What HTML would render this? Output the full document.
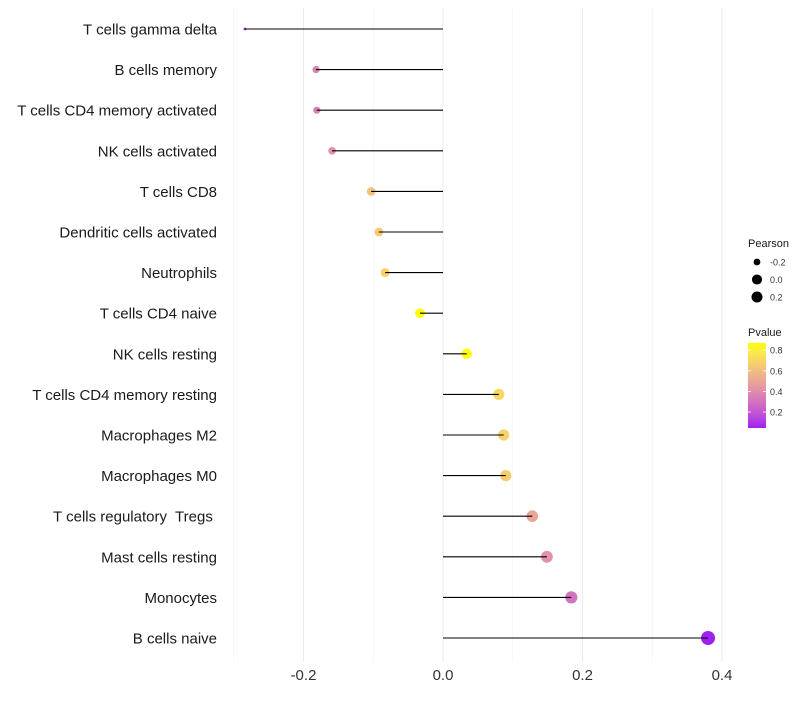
<!DOCTYPE html>
<html><head><meta charset="utf-8"><style>
body{margin:0;background:#fff;}
svg{font-family:"Liberation Sans",sans-serif;}
text{white-space:pre;}
</style></head><body>
<svg id="chart" width="800" height="700">
<defs><linearGradient id="pgrad" x1="0" y1="1" x2="0" y2="0"></linearGradient></defs>
<g id="grid"></g><g id="marks"></g><g id="labels"></g><g id="legend"></g>
</svg>
<script>
const categories=["T cells gamma delta","B cells memory","T cells CD4 memory activated","NK cells activated","T cells CD8","Dendritic cells activated","Neutrophils","T cells CD4 naive","NK cells resting","T cells CD4 memory resting","Macrophages M2","Macrophages M0","T cells regulatory  Tregs ","Mast cells resting","Monocytes","B cells naive"];
const pearson=[-0.284,-0.182,-0.181,-0.159,-0.103,-0.092,-0.083,-0.033,0.034,0.080,0.087,0.090,0.128,0.149,0.184,0.380];
const pvalue=[0.05,0.36,0.36,0.42,0.62,0.65,0.68,0.87,0.86,0.70,0.68,0.66,0.50,0.42,0.30,0.045];
const xTicks=[-0.2,0.0,0.2,0.4];
const xTickLabels=["-0.2","0.0","0.2","0.4"];
const sizeLegend=[-0.2,0.0,0.2];
const pLegendTicks=[0.2,0.4,0.6,0.8];

const NS="http://www.w3.org/2000/svg";
function mk(tag,attrs,parent){const e=document.createElementNS(NS,tag);for(const k in attrs)e.setAttribute(k,attrs[k]);parent.appendChild(e);return e;}
const x=v=>443+v*697.5;
const y=i=>29+i*40.6;
const pmin=Math.min(...pvalue),pmax=Math.max(...pvalue);
const smin=Math.min(...pearson),smax=Math.max(...pearson);
const rad=v=>(2.8+11.2*Math.sqrt(Math.max(0,(v-smin)/(smax-smin))))/2;
function toLab(r,g,b){const f=c=>{c/=255;return c>0.04045?Math.pow((c+0.055)/1.055,2.4):c/12.92};r=f(r);g=f(g);b=f(b);let X=(r*0.4124+g*0.3576+b*0.1805)/0.95047,Y=(r*0.2126+g*0.7152+b*0.0722),Z=(r*0.0193+g*0.1192+b*0.9505)/1.08883;const h=t=>t>0.008856?Math.cbrt(t):7.787*t+16/116;X=h(X);Y=h(Y);Z=h(Z);return[116*Y-16,500*(X-Y),200*(Y-Z)];}
function fromLab(L,a,bb){let Y=(L+16)/116,X=a/500+Y,Z=Y-bb/200;const h=t=>t*t*t>0.008856?t*t*t:(t-16/116)/7.787;X=h(X)*0.95047;Y=h(Y);Z=h(Z)*1.08883;let r=X*3.2406+Y*-1.5372+Z*-0.4986,g=X*-0.9689+Y*1.8758+Z*0.0415,b=X*0.0557+Y*-0.2040+Z*1.0570;const f=c=>{c=c>0.0031308?1.055*Math.pow(c,1/2.4)-0.055:12.92*c;return Math.max(0,Math.min(255,Math.round(c*255)))};return`rgb(${f(r)},${f(g)},${f(b)})`;}
const labA=toLab(160,32,240),labB=toLab(255,255,0);
const col=p=>{const t=Math.max(0,Math.min(1,(p-pmin)/(pmax-pmin)));return fromLab(...labA.map((v,i)=>v+(labB[i]-v)*t));};

const grid=document.getElementById('grid');
for(let v=-0.3;v<=0.41;v+=0.1){const major=xTicks.some(t=>Math.abs(t-v)<1e-6);
const l=mk('line',{x1:x(v),x2:x(v),y1:8,y2:662,stroke:major?'#ebebeb':'#f3f3f3','stroke-width':major?1:0.6},grid);

}
const marks=document.getElementById('marks'),labels=document.getElementById('labels');
categories.forEach((c,i)=>{
const pt=mk('circle',{cx:x(pearson[i]),cy:y(i),r:rad(pearson[i]),fill:col(pvalue[i])},marks);


const ln=mk('line',{x1:x(0),x2:x(pearson[i]),y1:y(i),y2:y(i),stroke:'#000','stroke-width':1.1},marks);


const t=mk('text',{x:217,y:y(i)+5.5,'text-anchor':'end','font-size':15,fill:'#1a1a1a'},labels);
t.textContent=c;


});
xTicks.forEach((v,i)=>{const t=mk('text',{x:x(v),y:680,'text-anchor':'middle','font-size':15,fill:'#333'},labels);t.textContent=xTickLabels[i];

});
const lg=document.getElementById('legend');
let tt=mk('text',{x:748,y:247,'font-size':11,fill:'#1a1a1a'},lg);tt.textContent='Pearson';


sizeLegend.forEach((v,i)=>{const yy=262+i*17.5;
const c=mk('circle',{cx:757,cy:yy,r:Math.min(rad(v),5.5),fill:'#000'},lg);


const t=mk('text',{x:770,y:yy+3.5,'font-size':9,fill:'#333'},lg);t.textContent=v.toFixed(1);

});
tt=mk('text',{x:748,y:336,'font-size':11,fill:'#1a1a1a'},lg);tt.textContent='Pvalue';


const grad=document.getElementById('pgrad');
for(let k=0;k<=10;k++){mk('stop',{offset:k/10,'stop-color':col(pmin+(pmax-pmin)*k/10)},grad);}
const barTop=343,barBot=428;
const py=p=>barBot-(p-pmin)/(pmax-pmin)*(barBot-barTop);
const bar=mk('rect',{x:748,y:barTop,width:18,height:barBot-barTop,fill:'url(#pgrad)'},lg);


pLegendTicks.forEach(v=>{const yy=py(v);
mk('line',{x1:748,x2:751,y1:yy,y2:yy,stroke:'#fff','stroke-width':0.8},lg);
mk('line',{x1:763,x2:766,y1:yy,y2:yy,stroke:'#fff','stroke-width':0.8},lg);
const t=mk('text',{x:770,y:yy+3.5,'font-size':9,fill:'#333'},lg);t.textContent=v.toFixed(1);

});
</script>
</body></html>
